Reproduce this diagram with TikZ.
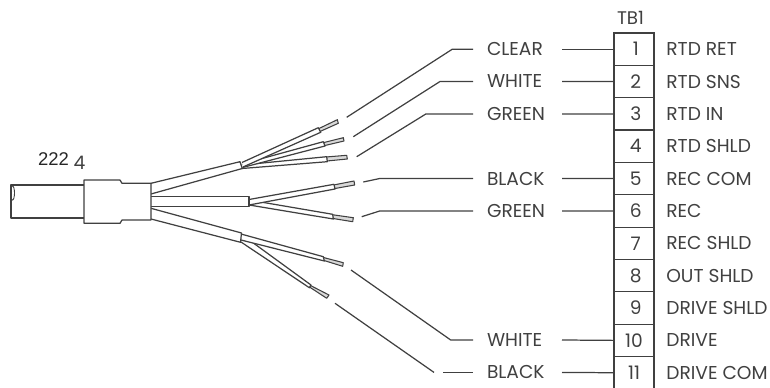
\documentclass[tikz,border=0pt]{standalone}
\usepackage{fontspec}
\setmainfont{Poppins}
\newfontfamily\plainfont{Liberation Sans}
\usetikzlibrary{positioning}
\definecolor{inkgray}{gray}{0.25}
\definecolor{textgray}{gray}{0.25}
\definecolor{coregray}{gray}{0.85}
\definecolor{sheath}{rgb}{1,1,1}
\tikzset{
	termbox/.style={draw=inkgray,line width=0.7pt,minimum width=0.8cm,minimum height=0.6472cm,inner sep=0pt,outer sep=0pt,text=textgray,font=\fontsize{10.6}{12}\selectfont},
	pinlabel/.style={anchor=west,inner sep=0pt,text=textgray,font=\fontsize{10.6}{12}\selectfont},
	colorlabel/.style={text width=1.22cm,align=left,inner xsep=0.28cm,inner ysep=0pt,outer sep=0pt,text height=7.4pt,text depth=0pt,text=textgray,font=\fontsize{10.6}{12}\selectfont},
	leader/.style={draw=inkgray,line width=0.7pt},
	jacket/.style={draw=inkgray,fill=sheath,line width=0.7pt,line join=round},
	core/.style={draw=inkgray,fill=coregray,line width=0.6pt,line join=round},
}
\begin{document}
\begin{tikzpicture}[x=0.02cm,y=-0.02cm]
	\useasboundingbox (0,0) rectangle (770,388);
	% cable
	\draw[jacket] (84,185) -- (11,185) -- (11,218) -- (84,218);
	\draw[draw=inkgray,line width=0.5pt] (12.5,193) ellipse [x radius=2,y radius=7];
	\node[inner sep=0pt,text=black!85,font=\plainfont\fontsize{10.5}{12}\selectfont] (cablenum) at (53.5,159.5) {222};
	\node[inner sep=0pt,text=textgray,font=\fontsize{10.6}{12}\selectfont] (cablesub) at (79.5,163) {4};
	% upper bundle
	\draw[core] (326,157) -- (346.7,155.3) -- (347.3,159) -- (327,161);
	\draw[jacket] (242,165) -- (326.7,156.7) -- (327.3,161.7) -- (242,168.5);
	\draw[core] (324,142.5) -- (343.3,137.7) -- (344,141) -- (325,145.5);
	\draw[jacket] (242,164) -- (323.3,141.7) -- (325,146) -- (242.5,167.5);
	\draw[core] (319,128.5) -- (337.3,119.7) -- (338.3,123.3) -- (320,131.5);
	\draw[jacket] (242,162.5) -- (318.3,127.7) -- (320.7,132.3) -- (243,167);
	\draw[jacket] (151,183.3) -- (240,161.7) -- (242.3,168.5) -- (151,194);
	% middle bundle
	\draw[core] (333,214.8) -- (353.3,217.7) -- (352.7,221.7) -- (333,218.5);
	\draw[jacket] (249,200) -- (332.7,214.3) -- (333.3,219) -- (249,205);
	\draw[core] (334.5,184.8) -- (354,181) -- (354.7,185) -- (335,188.5);
	\draw[jacket] (249,199.5) -- (334,184.3) -- (335,189) -- (249,205);
	\draw[jacket] (151,196.5) -- (249,196.5) -- (249,206.7) -- (151,206.7);
	% lower bundle
	\draw[core] (310.5,285.5) -- (329,295) -- (326.7,298.3) -- (309.5,287);
	\draw[jacket] (241,234) -- (311,285) -- (309.3,287.7) -- (241,242);
	\draw[core] (323.5,257.5) -- (343.3,262.7) -- (342.7,266.3) -- (324,260.5);
	\draw[jacket] (241,234) -- (323.3,256.7) -- (324.3,261) -- (241,240);
	\draw[jacket] (151,208.3) -- (241.5,233) -- (240.5,242.3) -- (151,219);
	% sleeve
	\draw[jacket] (84,180) -- (120,180) -- (122,183.3) -- (151,183.3) -- (151,220) -- (122,220) -- (120,223.3) -- (84,223.3) -- cycle;
	% terminal block
	\node[inner sep=0pt,text=textgray,font=\fontsize{10.4}{12}\selectfont] (tbname) at (630.5,18) {TB1};
	\node[termbox] (row1) at (634,49.2) {\hspace{2pt}1};
	\node[termbox,below=0pt of row1] (row2) {\hspace{2pt}2};
	\node[termbox,below=0pt of row2] (row3) {\hspace{2pt}3};
	\node[termbox,below=0pt of row3] (row4) {\hspace{2pt}4};
	\node[termbox,below=0pt of row4] (row5) {\hspace{2pt}5};
	\node[termbox,below=0pt of row5] (row6) {\hspace{2pt}6};
	\node[termbox,below=0pt of row6] (row7) {\hspace{2pt}7};
	\node[termbox,below=0pt of row7] (row8) {\hspace{2pt}8};
	\node[termbox,below=0pt of row8] (row9) {\hspace{2pt}9};
	\node[termbox,below=0pt of row9] (row10) {10};
	\node[termbox,below=0pt of row10] (row11) {11};
	\node[pinlabel,right=0.24cm of row1] (pin1) {RTD RET};
	\node[pinlabel,right=0.24cm of row2] (pin2) {RTD SNS};
	\node[pinlabel,right=0.24cm of row3] (pin3) {RTD IN};
	\node[pinlabel,right=0.24cm of row4] (pin4) {RTD SHLD};
	\node[pinlabel,right=0.24cm of row5] (pin5) {REC COM};
	\node[pinlabel,right=0.24cm of row6] (pin6) {REC};
	\node[pinlabel,right=0.24cm of row7] (pin7) {REC SHLD};
	\node[pinlabel,right=0.24cm of row8] (pin8) {OUT SHLD};
	\node[pinlabel,right=0.24cm of row9] (pin9) {DRIVE SHLD};
	\node[pinlabel,right=0.24cm of row10] (pin10) {DRIVE};
	\node[pinlabel,right=0.24cm of row11] (pin11) {DRIVE COM};
	% wire colours
	\node[colorlabel] (clear) at (517.5,49.2) {CLEAR};
	\node[colorlabel] (whitetop) at (517.5,81.5) {WHITE};
	\node[colorlabel] (greentop) at (517.5,113.9) {GREEN};
	\node[colorlabel] (blacktop) at (517.5,178.6) {BLACK};
	\node[colorlabel] (greenlow) at (517.5,210.9) {GREEN};
	\node[colorlabel] (whitelow) at (517.5,340) {WHITE};
	\node[colorlabel] (blacklow) at (517.5,372.4) {BLACK};
	\draw[leader] (clear.east) -- (row1.west);
	\draw[leader] (whitetop.east) -- (row2.west);
	\draw[leader] (greentop.east) -- (row3.west);
	\draw[leader] (blacktop.east) -- (row5.west);
	\draw[leader] (greenlow.east) -- (row6.west);
	\draw[leader] (whitelow.east) -- (row10.west);
	\draw[leader] (blacklow.east) -- (row11.west);
	% leaders back to the bundle
	\coordinate (cutclear) at (346.7,117.3);
	\coordinate (cutwhitetop) at (353.3,136.7);
	\coordinate (cutgreentop) at (356.7,156.7);
	\coordinate (cutblacktop) at (363.3,182);
	\coordinate (cutgreenlow) at (361.7,216.7);
	\coordinate (cutwhitelow) at (351,270);
	\coordinate (cutblacklow) at (335,303.3);
	\coordinate (gapblacklow) at (434,372.4);
	\draw[leader] (cutclear) -- (452.3,49.2) -- (clear.west);
	\draw[leader] (cutwhitetop) -- (440,81.5) -- (whitetop.west);
	\draw[leader] (cutgreentop) -- (426,113.9) -- (greentop.west);
	\draw[leader] (cutblacktop) -- (379.3,178.6) -- (blacktop.west);
	\draw[leader] (cutgreenlow) -- (380,210.9) -- (greenlow.west);
	\draw[leader] (cutwhitelow) -- (450.7,340) -- (whitelow.west);
	\draw[leader] (cutblacklow) -- (gapblacklow);
	\draw[leader] (443.3,372.4) -- (blacklow.west);
\end{tikzpicture}
\end{document}
